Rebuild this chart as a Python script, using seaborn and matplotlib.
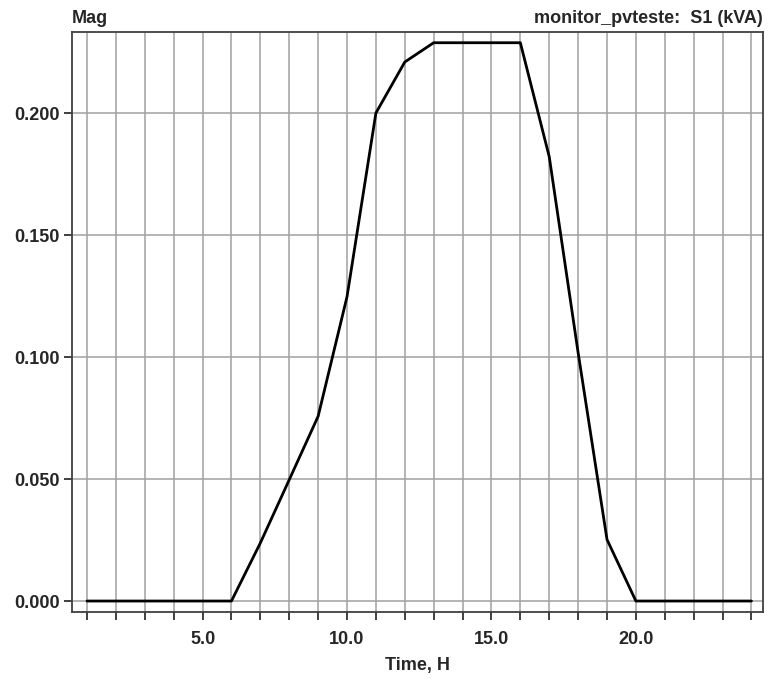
import matplotlib
matplotlib.use("Agg")
import matplotlib.pyplot as plt
import seaborn as sns
import pandas as pd
import numpy as np

hours = list(range(1, 25))
s1_kva = [0.0, 0.0, 0.0, 0.0, 0.0, 0.0, 0.0238, 0.0497, 0.0757, 0.1247,
          0.2000, 0.2209, 0.2288, 0.2288, 0.2288, 0.2288, 0.1821, 0.1018,
          0.0252, 0.0, 0.0, 0.0, 0.0, 0.0]
x_ticklabels = ["5.0", "10.0", "15.0", "20.0"]
y_ticklabels = ["0.000", "0.050", "0.100", "0.150", "0.200"]

df = pd.DataFrame({"Time, H": hours, "S1": s1_kva})

sns.set_style("white")
plt.rcParams['font.family'] = ['Liberation Sans', 'DejaVu Sans']

fig = plt.figure(figsize=(7.68, 6.79), dpi=100)
ax = fig.add_axes([72/768, 1-612/679, (763-72)/768, (612-32)/679])

sns.lineplot(data=df, x="Time, H", y="S1", ax=ax, color="black", linewidth=2.0, zorder=3)

ax.set_xlim(0.48, 24.4)
ax.set_ylim(-0.0045, 0.2332)

ax.set_xticks(hours)
ax.set_xticklabels([f"{h:.1f}" if h % 5 == 0 else "" for h in hours])
yt = [float(v) for v in y_ticklabels]
ax.set_yticks(yt)
ax.set_yticklabels(y_ticklabels)

ax.grid(True, color="#a0a0a0", linewidth=1.1)
ax.set_axisbelow(True)

for sp in ax.spines.values():
    sp.set_color("#404040")
    sp.set_linewidth(1.3)

ax.tick_params(axis="both", direction="out", length=6, width=1.2, color="#202020",
               labelsize=13, pad=3, bottom=True, left=True)
ax.tick_params(axis="x", pad=8)
for lab in ax.get_xticklabels() + ax.get_yticklabels():
    lab.set_fontweight("bold")

ax.set_xlabel("Time, H", fontsize=13, fontweight="bold", labelpad=6)
ax.set_ylabel("")

fig.text(72/768, 1-27/679, "Mag", fontsize=13, fontweight="bold", ha="left", va="bottom")
fig.text(763/768, 1-27/679, "monitor_pvteste:  S1 (kVA)", fontsize=13, fontweight="bold",
         ha="right", va="bottom")

fig.savefig("out.png", dpi=100)
